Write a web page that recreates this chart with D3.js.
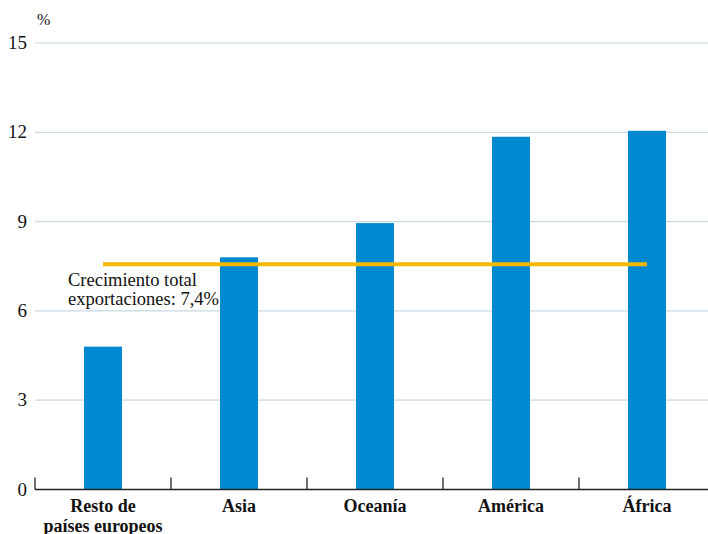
<!DOCTYPE html>
<html>
<head>
<meta charset="utf-8">
<script src="https://cdn.jsdelivr.net/npm/d3@7"></script>
<style>
  body { margin: 0; background: #fff; }
</style>
</head>
<body>
<div id="chart"></div>
<script>
const categories = [["Resto de", "países europeos"], ["Asia"], ["Oceanía"], ["América"], ["África"]];
const values = [4.8, 7.8, 8.95, 11.85, 12.05];
const yTicks = [0, 3, 6, 9, 12, 15];
const totalGrowth = 7.57;
const totalLabel = ["Crecimiento total", "exportaciones: 7,4%"];

const width = 708, height = 534;
const margin = { top: 43, right: 0, bottom: 44.5, left: 35 };
const serif = "Liberation Serif";

const svg = d3.select("#chart").append("svg")
  .attr("width", width)
  .attr("height", height);

const x = d3.scaleBand()
  .domain(d3.range(categories.length))
  .range([margin.left, margin.left + 136 * categories.length])
  .paddingInner(0);

const y = d3.scaleLinear()
  .domain([0, 15])
  .range([height - margin.bottom, margin.top]);

const barWidth = 38;
const cx = i => x(i) + x.bandwidth() / 2;

// grid
svg.append("g")
  .selectAll("line")
  .data(yTicks.filter(d => d > 0))
  .enter()
  .append("line")
  .attr("x1", margin.left)
  .attr("x2", width)
  .attr("y1", d => y(d))
  .attr("y2", d => y(d))
  .attr("stroke", "#c9d8e2")
  .attr("stroke-width", 1.2);

// y tick labels
svg.append("g")
  .selectAll("text")
  .data(yTicks)
  .enter()
  .append("text")
  .attr("x", 27)
  .attr("y", d => y(d) + 6)
  .attr("text-anchor", "end")
  .attr("font-family", serif)
  .attr("font-size", 19)
  .attr("fill", "#111")
  .text(d => d);

svg.append("text")
  .attr("x", 37)
  .attr("y", 25)
  .attr("font-family", serif)
  .attr("font-size", 16)
  .attr("fill", "#111")
  .text("%");

// bars
svg.append("g")
  .selectAll("rect")
  .data(values)
  .enter()
  .append("rect")
  .attr("x", (d, i) => cx(i) - barWidth / 2)
  .attr("y", d => y(d))
  .attr("width", barWidth)
  .attr("height", d => y(0) - y(d))
  .attr("fill", "#0088d1");

// x axis
const axis = svg.append("g");
axis.append("line")
  .attr("x1", margin.left)
  .attr("x2", width)
  .attr("y1", y(0))
  .attr("y2", y(0))
  .attr("stroke", "#222")
  .attr("stroke-width", 1.3);
axis.selectAll("line.tick")
  .data(d3.range(categories.length))
  .enter()
  .append("line")
  .classed("tick", true)
  .attr("x1", d => x(d))
  .attr("x2", d => x(d))
  .attr("y1", y(0))
  .attr("y2", y(0) - 12)
  .attr("stroke", "#222")
  .attr("stroke-width", 1.3);

const labels = axis.selectAll("text")
  .data(categories)
  .enter()
  .append("text")
  .attr("text-anchor", "middle")
  .attr("font-family", serif)
  .attr("font-size", 18)
  .attr("font-weight", "bold")
  .attr("fill", "#111");
labels.selectAll("tspan")
  .data((d, i) => d.map(t => ({ t, i })))
  .enter()
  .append("tspan")
  .attr("x", d => cx(d.i))
  .attr("y", (d, j) => y(0) + 22 + j * 20)
  .text(d => d.t);

// total growth line
svg.append("line")
  .attr("x1", cx(0))
  .attr("x2", cx(categories.length - 1))
  .attr("y1", y(totalGrowth))
  .attr("y2", y(totalGrowth))
  .attr("stroke", "#f5b800")
  .attr("stroke-width", 4);

svg.append("text")
  .attr("font-family", serif)
  .attr("font-size", 18.5)
  .attr("fill", "#111")
  .selectAll("tspan")
  .data(totalLabel)
  .enter()
  .append("tspan")
  .attr("x", 68)
  .attr("y", (d, i) => 286 + i * 19)
  .text(d => d);
</script>
</body>
</html>
